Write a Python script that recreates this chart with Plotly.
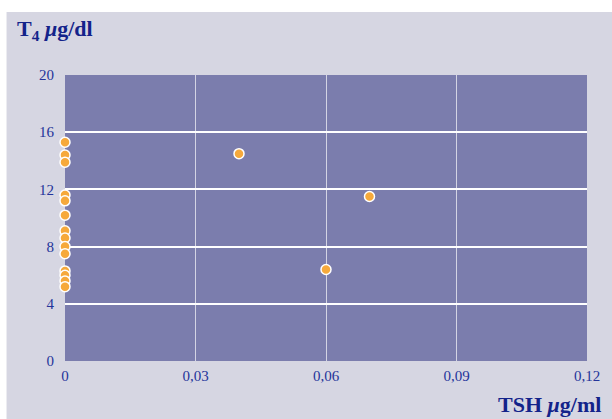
import plotly.graph_objects as go

# TSH (µg/ml) versus T4 (µg/dl) for each patient
tsh = [0, 0, 0, 0, 0, 0, 0, 0, 0, 0, 0, 0, 0, 0, 0.04, 0.07, 0.06]
t4 = [15.3, 14.4, 13.9, 11.6, 11.2, 10.2, 9.1, 8.6, 8.0, 7.5, 6.3, 6.0, 5.6, 5.2, 14.5, 11.5, 6.4]

x_ticks = [0, 0.03, 0.06, 0.09, 0.12]
x_tick_text = ["0", "0,03", "0,06", "0,09", "0,12"]
y_ticks = [0, 4, 8, 12, 16, 20]

BG = "#D6D6E2"
PLOT_BG = "#7B7DAD"
NAVY = "#13238A"
TICK = "#24349A"
FONT = "Liberation Serif"

fig = go.Figure(
    go.Scatter(
        x=tsh,
        y=t4,
        mode="markers",
        cliponaxis=False,
        marker=dict(size=10, color="#F6A93B", line=dict(color="white", width=1.5)),
        hoverinfo="x+y",
    )
)

fig.update_layout(
    width=612,
    height=419,
    margin=dict(l=65, r=20, t=75, b=58),
    paper_bgcolor=BG,
    plot_bgcolor=PLOT_BG,
    showlegend=False,
    separators=",.",
    font=dict(family=FONT, color=TICK, size=15),
    xaxis=dict(
        range=[0, 0.12],
        tickvals=x_ticks,
        ticktext=x_tick_text,
        showgrid=True,
        gridcolor="#D4D4E4",
        gridwidth=1,
        zeroline=False,
        showline=False,
        ticks="",
        ticklabelstandoff=4,
        fixedrange=True,
    ),
    yaxis=dict(
        range=[0, 20],
        tickvals=y_ticks,
        showgrid=True,
        gridcolor="white",
        gridwidth=2,
        zeroline=False,
        showline=False,
        ticks="",
        ticklabelstandoff=10,
        fixedrange=True,
    ),
    shapes=[
        # white margin strips around the panel
        dict(type="rect", xref="paper", yref="paper", x0=-0.2, x1=1.1, y0=1.2203, y1=1.4,
             fillcolor="white", line=dict(width=0), layer="above"),
        dict(type="rect", xref="paper", yref="paper", x0=-0.2, x1=-0.112, y0=-0.3, y1=1.4,
             fillcolor="white", line=dict(width=0), layer="above"),
    ],
    annotations=[
        dict(
            text="<b>T<sub>4</sub> <i>μ</i>g/dl</b>",
            xref="paper", yref="paper",
            x=(15 - 65) / 527, y=(361 - 30) / 286,
            xanchor="left", yanchor="middle",
            showarrow=False,
            font=dict(family=FONT, size=22, color=NAVY),
        ),
        dict(
            text="<b>TSH <i>μ</i>g/ml</b>",
            xref="paper", yref="paper",
            x=(608 - 65) / 527, y=(361 - 405) / 286,
            xanchor="right", yanchor="middle",
            showarrow=False,
            font=dict(family=FONT, size=22, color=NAVY),
        ),
    ],
)

fig.write_html("out.html")
